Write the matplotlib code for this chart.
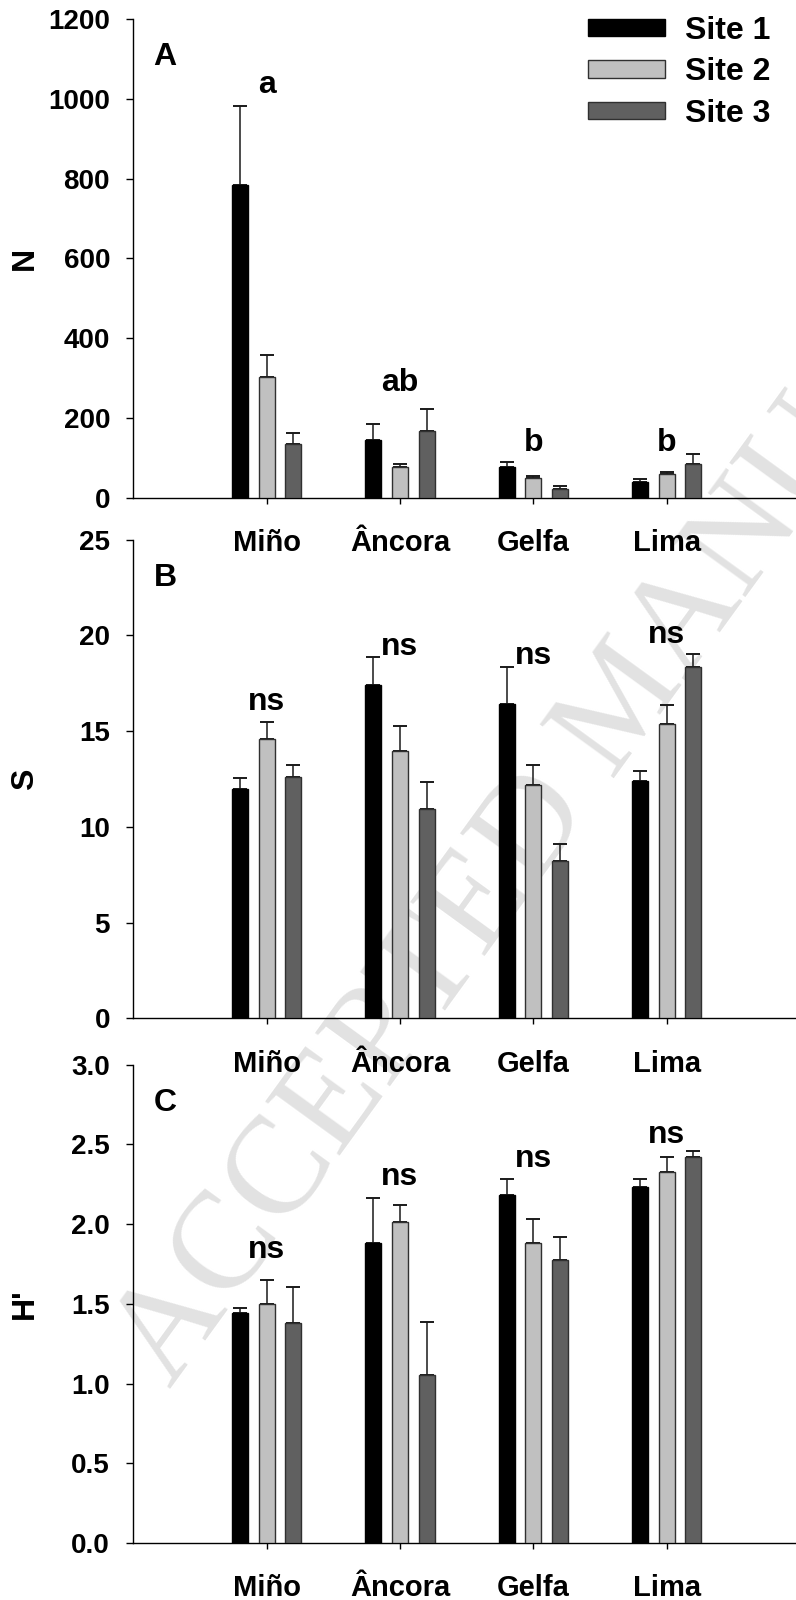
import matplotlib
matplotlib.use('Agg')
import matplotlib.pyplot as plt
import numpy as np

plt.rcParams['font.family'] = ['Liberation Sans', 'DejaVu Sans']

# ---------------- data ----------------
sites = ['Miño', 'Âncora', 'Gelfa', 'Lima']
series_names = ['Site 1', 'Site 2', 'Site 3']

N_site1 = [785, 145, 76, 39]
N_site2 = [302, 78, 50, 59]
N_site3 = [135, 167, 23, 85]
N_err1 = [197, 40, 14, 8]
N_err2 = [55, 6, 5, 5]
N_err3 = [28, 55, 7, 24]
N_letters = ['a', 'ab', 'b', 'b']
N_letter_y = [1036, 288, 137, 137]

S_site1 = [12.0, 17.4, 16.4, 12.4]
S_site2 = [14.6, 13.95, 12.2, 15.35]
S_site3 = [12.6, 10.95, 8.2, 18.35]
S_err1 = [0.55, 1.45, 1.95, 0.5]
S_err2 = [0.9, 1.3, 1.05, 1.0]
S_err3 = [0.65, 1.4, 0.9, 0.7]
S_letters = ['ns', 'ns', 'ns', 'ns']
S_letter_y = [16.5, 19.4, 18.9, 20.0]

H_site1 = [1.44, 1.88, 2.18, 2.23]
H_site2 = [1.50, 2.015, 1.88, 2.33]
H_site3 = [1.383, 1.055, 1.775, 2.42]
H_err1 = [0.036, 0.283, 0.10, 0.05]
H_err2 = [0.147, 0.106, 0.15, 0.09]
H_err3 = [0.225, 0.33, 0.145, 0.04]
H_letters = ['ns', 'ns', 'ns', 'ns']
H_letter_y = [1.835, 2.297, 2.41, 2.56]

N_ticks = [0, 200, 400, 600, 800, 1000, 1200]
S_ticks = [0, 5, 10, 15, 20, 25]
H_ticks = [0.0, 0.5, 1.0, 1.5, 2.0, 2.5, 3.0]

# ---------------- styling ----------------
colors = ['#000000', '#c0c0c0', '#606060']
edges = ['#000000', '#303030', '#303030']
bar_w = 0.12
offsets = [-0.2, 0.0, 0.2]

W, H = 796, 1600
fig = plt.figure(figsize=(W / 100, H / 100), dpi=100)

ax_left = 133.3 / W
ax_width = 666.7 / W
panels = [
    dict(top=19.2, bottom=497.7, vals=[N_site1, N_site2, N_site3],
         errs=[N_err1, N_err2, N_err3], letters=N_letters, letter_y=N_letter_y,
         ticks=N_ticks, ylabel='N', tag='A', fmt='{:d}'),
    dict(top=539.6, bottom=1018.3, vals=[S_site1, S_site2, S_site3],
         errs=[S_err1, S_err2, S_err3], letters=S_letters, letter_y=S_letter_y,
         ticks=S_ticks, ylabel='S', tag='B', fmt='{:d}'),
    dict(top=1064.7, bottom=1543.0, vals=[H_site1, H_site2, H_site3],
         errs=[H_err1, H_err2, H_err3], letters=H_letters, letter_y=H_letter_y,
         ticks=H_ticks, ylabel="H'", tag='C', fmt='{:.1f}'),
]

x = np.arange(1, len(sites) + 1)
for i, p in enumerate(panels):
    ax = fig.add_axes([ax_left, 1 - p['bottom'] / H, ax_width, (p['bottom'] - p['top']) / H])
    ax.set_facecolor('none')
    containers = []
    for k in range(3):
        bc = ax.bar(x + offsets[k], p['vals'][k], width=bar_w, color=colors[k],
                    edgecolor=edges[k], linewidth=1.0, label=series_names[k], zorder=3)
        containers.append(bc)
        ax.errorbar(x + offsets[k], p['vals'][k],
                    yerr=[np.zeros(len(sites)), p['errs'][k]], fmt='none',
                    ecolor='#1a1a1a', elinewidth=1.1, capsize=5.2, capthick=1.4, zorder=2)
    ax.set_xlim(0, 5)
    ax.set_ylim(p['ticks'][0], p['ticks'][-1])
    ax.set_yticks(p['ticks'])
    ax.set_yticklabels([p['fmt'].format(t) for t in p['ticks']])
    ax.set_xticks(x)
    ax.set_xticklabels(sites)
    for s in ['top', 'right']:
        ax.spines[s].set_visible(False)
    for s in ['left', 'bottom']:
        ax.spines[s].set_linewidth(1.0)
    ax.tick_params(axis='y', direction='out', length=4.7, width=1.0, pad=12, labelsize=20)
    ax.tick_params(axis='x', direction='out', length=4.5, width=1.0, pad=18, labelsize=21)
    for lab in ax.get_xticklabels() + ax.get_yticklabels():
        lab.set_fontweight('bold')
    ax.set_ylabel(p['ylabel'], fontsize=23, fontweight='bold', va='center')
    ax.yaxis.set_label_coords(-0.1625, 0.5)
    ax.text(0.0475, 0.92, p['tag'], transform=ax.transAxes, fontsize=23,
            fontweight='bold', ha='center', va='center')
    for j in range(len(sites)):
        ax.text(x[j], p['letter_y'][j], p['letters'][j], fontsize=23,
                fontweight='bold', ha='center', va='center', zorder=4)
    if i == 0:
        ax.legend(handles=containers, loc='upper left',
                  bbox_to_anchor=(588 / W, 1 - 16 / H), bbox_transform=fig.transFigure,
                  frameon=False, borderpad=0, borderaxespad=0,
                  prop={'size': 23, 'weight': 'bold'},
                  handlelength=2.41, handleheight=0.47, handletextpad=0.63,
                  labelspacing=0.36)

# watermark of the reference page
fig.text(170 / W, 1 - 1389 / H, 'ACCEPTED MANUSCRIPT', rotation=54,
         rotation_mode='anchor', ha='left', va='baseline', fontsize=100,
         family='Liberation Serif', color='#e2e2e2', zorder=-5)

fig.savefig('out.png', dpi=100)
